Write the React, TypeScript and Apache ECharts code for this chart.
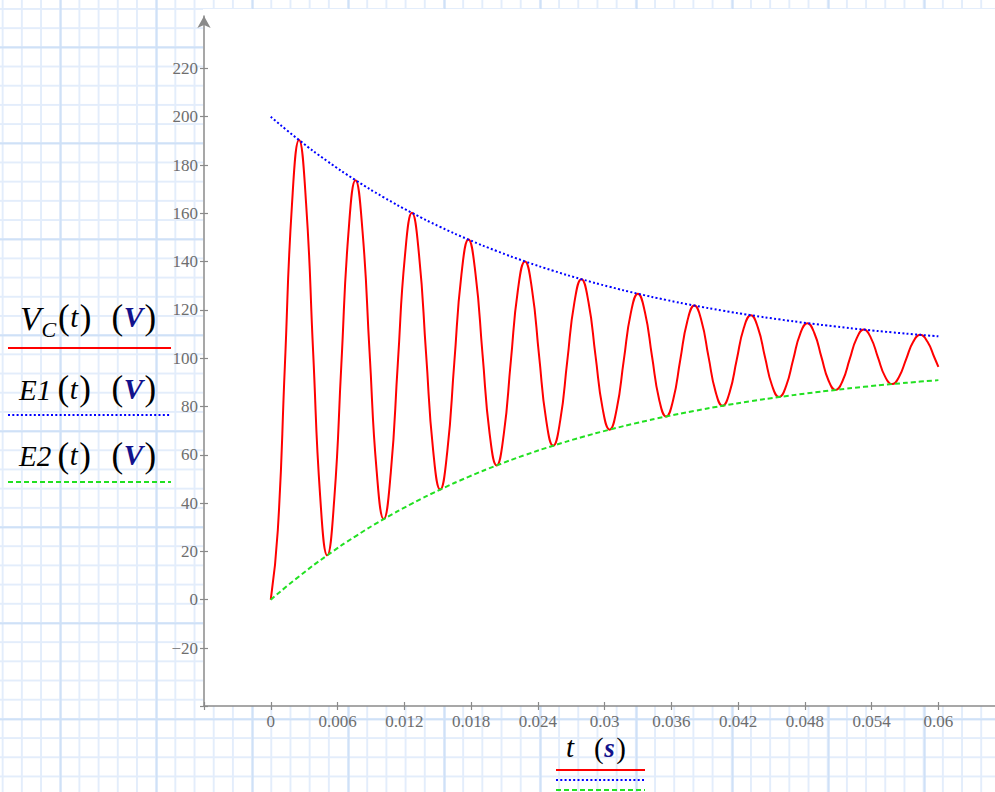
import React, { useEffect, useRef } from 'react';
import * as echarts from 'echarts';

// Time samples (s)
const vcTime = [0, 0.000635, 0.001269, 0.001904, 0.002538, 0.003173, 0.003807, 0.004442, 0.005076, 0.005711, 0.006345, 0.00698, 0.007614, 0.008249, 0.008883, 0.009518, 0.010152, 0.010787, 0.011421, 0.012056, 0.01269, 0.013325, 0.013959, 0.014594, 0.015228, 0.015863, 0.016497, 0.017132, 0.017766, 0.018401, 0.019035, 0.01967, 0.020304, 0.020939, 0.021573, 0.022208, 0.022842, 0.023477, 0.024111, 0.024746, 0.02538, 0.026015, 0.026649, 0.027284, 0.027918, 0.028553, 0.029187, 0.029822, 0.030456, 0.031091, 0.031725, 0.03236, 0.032994, 0.033629, 0.034263, 0.034898, 0.035532, 0.036167, 0.036801, 0.037436, 0.03807, 0.038705, 0.039339, 0.039974, 0.040608, 0.041243, 0.041877, 0.042512, 0.043146, 0.043781, 0.044415, 0.04505, 0.045684, 0.046319, 0.046953, 0.047588, 0.048222, 0.048857, 0.049491, 0.050126, 0.05076, 0.051395, 0.052029, 0.052664, 0.053298, 0.053933, 0.054567, 0.055202, 0.055836, 0.056471, 0.057105, 0.05774, 0.058374, 0.059009, 0.059643, 0.06];

// V_C(t) in volts
const vcValue = [0, 28.86, 96.96, 163.43, 190.35, 164.27, 102.75, 42.69,
  18.38, 41.93, 97.52, 151.78, 173.74, 152.46, 102.24, 53.22,
  33.38, 52.61, 97.97, 142.26, 160.19, 142.82, 101.83, 61.82,
  45.62, 61.31, 98.35, 134.49, 149.13, 134.95, 101.49, 68.83,
  55.61, 68.43, 98.65, 128.15, 140.1, 128.53, 101.22, 74.56,
  63.77, 74.23, 98.9, 122.99, 132.73, 123.28, 101.0, 79.24,
  70.42, 78.96, 99.1, 118.76, 126.72, 119.01, 100.81, 83.05,
  75.86, 82.82, 99.27, 115.31, 121.81, 115.52, 100.66, 86.17,
  80.29, 85.98, 99.4, 112.5, 117.81, 112.67, 100.54, 88.71,
  83.91, 88.56, 99.51, 110.21, 114.53, 110.34, 100.44, 90.78,
  86.87, 90.66, 99.6, 108.33, 111.86, 108.44, 100.36, 92.48,
  89.28, 92.37, 99.67, 106.8, 109.68, 106.89, 100.29, 96.4];

// Envelope samples
const envTime = [0, 0.002538, 0.005076, 0.007614, 0.010152, 0.01269, 0.015228, 0.017766, 0.020304, 0.022842, 0.02538, 0.027918, 0.030456, 0.032994, 0.035532, 0.03807, 0.040608, 0.043146, 0.045684, 0.048222, 0.05076, 0.053298, 0.055836, 0.058374, 0.06];
const e1Value = [200, 190.35, 181.62, 173.74, 166.62, 160.19, 154.38, 149.13, 144.39, 140.1, 136.23, 132.73, 129.58, 126.72, 124.14, 121.81, 119.71, 117.81, 116.09, 114.53, 113.13, 111.86, 110.72, 109.68, 109.07];
const e2Value = [0, 9.65, 18.38, 26.26, 33.38, 39.81, 45.62, 50.87, 55.61, 59.9, 63.77, 67.27, 70.42, 73.28, 75.86, 78.19, 80.29, 82.19, 83.91, 85.47, 86.87, 88.14, 89.28, 90.32, 90.93];

const xTickValues = [0, 0.006, 0.012, 0.018, 0.024, 0.03, 0.036, 0.042, 0.048, 0.054, 0.06];
const yTickValues = [-20, 0, 20, 40, 60, 80, 100, 120, 140, 160, 180, 200, 220];

const X_MIN = -0.006;
const X_MAX = 0.065088;
const Y_MIN = -44;
const Y_MAX = 241.7;

const AXIS_COLOR = '#8a8a8a';
const LABEL_COLOR = '#6e6e6e';
const SERIF = '"Liberation Serif", "Times New Roman", serif';
const NAVY = '#12128c';
const RED = '#ff0000';
const BLUE = '#0000ff';
const GREEN = '#22e022';

function piece(text: string, x: number, baseline: number, size: number, italic: boolean, bold: boolean, color: string) {
  return {
    type: 'text',
    z: 100,
    x,
    y: baseline - 0.3375 * size,
    style: {
      text,
      font: `${italic ? 'italic ' : ''}${bold ? 'bold ' : ''}${size}px ${SERIF}`,
      fill: color,
      textAlign: 'left',
      verticalAlign: 'middle',
      textVerticalAlign: 'middle',
    },
  };
}

// a parenthesised group "(x)" as one rich text, parens regular, inner letter styled
function parenGroup(inner: string, x: number, baseline: number, parenSize: number, innerSize: number, bold: boolean, color: string) {
  const p: any = { fontFamily: SERIF, fontSize: parenSize, fontStyle: 'normal', fontWeight: 'normal', fill: '#000', color: '#000' };
  const i: any = { fontFamily: SERIF, fontSize: innerSize, fontStyle: 'italic', fontWeight: bold ? 'bold' : 'normal', fill: color, color, padding: [0, 1.5, 0, 0.5] };
  return {
    type: 'text',
    z: 100,
    x,
    y: baseline - 0.3375 * (parenSize + innerSize) / 2,
    style: {
      text: `{p|(}{i|${inner}}{p|)}`,
      textAlign: 'left',
      verticalAlign: 'middle',
      textVerticalAlign: 'middle',
      rich: { p, i },
    },
  };
}

function hline(x1: number, x2: number, y: number, color: string, dash?: number[]) {
  return {
    type: 'line',
    z: 100,
    shape: { x1, y1: y, x2, y2: y },
    style: { stroke: color, lineWidth: 2, lineDash: dash || null },
  };
}

function rowLabel(name: string, nameX: number, baseline: number) {
  return [
    piece(name, nameX, baseline, 29, true, false, '#000'),
    parenGroup('t', 57.6, baseline, 35, 29, false, '#000'),
    parenGroup('V', 111.5, baseline, 35, 29, true, NAVY),
  ];
}

export default function App() {
  const ref = useRef<HTMLDivElement>(null);

  useEffect(() => {
    if (!ref.current) return;
    const chart = echarts.init(ref.current, null, { renderer: 'svg' });

    const vcData = vcTime.map((t, i) => [t, vcValue[i]]);
    const e1Data = envTime.map((t, i) => [t, e1Value[i]]);
    const e2Data = envTime.map((t, i) => [t, e2Value[i]]);

    const graphicEls: any[] = [
      {
        type: 'rect',
        z: -100,
        shape: { x: 203, y: 9, width: 792, height: 697 },
        style: { fill: '#ffffff' },
      },
      // V_C(t) (V)
      piece('V', 20, 330, 34, true, false, '#000'),
      piece('C', 41.5, 337, 22, true, false, '#000'),
      parenGroup('t', 58, 328, 35, 29, false, '#000'),
      parenGroup('V', 111.5, 328, 35, 29, true, NAVY),
      hline(8, 171, 348, RED),
      ...rowLabel('E1', 19, 399.3),
      hline(8, 170, 415, BLUE, [2, 2.3]),
      ...rowLabel('E2', 19, 466),
      hline(8, 171, 482, GREEN, [5, 3]),
      // axis title t (s)
      piece('t', 566, 757, 29, true, false, '#000'),
      parenGroup('s', 594, 757, 29, 27, true, NAVY),
      hline(556, 645, 770, RED),
      hline(556, 645, 780, BLUE, [2, 2.3]),
      hline(556, 645, 790, GREEN, [5, 3]),
    ];

    const labelStyle = {
      color: LABEL_COLOR,
      fontFamily: SERIF,
      fontSize: 17,
    };

    const option: any = {
      animation: false,
      graphic: { elements: graphicEls },
      grid: { left: 204, right: 0, top: 16, bottom: 86, containLabel: false },
      xAxis: [
        {
          type: 'value',
          min: X_MIN,
          max: X_MAX,
          position: 'bottom',
          axisLine: { show: true, onZero: false, lineStyle: { color: AXIS_COLOR, width: 1.5 } },
          axisTick: { show: true, length: 4, customValues: [X_MIN, ...xTickValues], lineStyle: { color: AXIS_COLOR, width: 1.2 } },
          axisLabel: {
            show: true,
            customValues: xTickValues,
            margin: 7,
            ...labelStyle,
            formatter: (v: number) => String(v),
          },
          splitLine: { show: false },
        },
        {
          type: 'value',
          min: X_MIN,
          max: X_MAX,
          position: 'bottom',
          axisLine: { show: false, onZero: false },
          axisTick: { show: true, inside: true, length: 4, customValues: [X_MIN, ...xTickValues], lineStyle: { color: AXIS_COLOR, width: 1.2 } },
          axisLabel: { show: false },
          splitLine: { show: false },
        },
      ],
      yAxis: [
        {
          type: 'value',
          min: Y_MIN,
          max: Y_MAX,
          position: 'left',
          axisLine: {
            show: true,
            onZero: false,
            symbol: ['none', 'arrow'],
            symbolSize: [10, 12],
            lineStyle: { color: AXIS_COLOR, width: 1.5 },
          },
          axisTick: { show: true, length: 4, customValues: [Y_MIN, ...yTickValues], lineStyle: { color: AXIS_COLOR, width: 1.2 } },
          axisLabel: {
            show: true,
            customValues: yTickValues,
            margin: 6,
            ...labelStyle,
            formatter: (v: number) => (v < 0 ? '\u2212' + Math.abs(v) : String(v)),
          },
          splitLine: { show: false },
        },
        {
          type: 'value',
          min: Y_MIN,
          max: Y_MAX,
          position: 'left',
          axisLine: { show: false, onZero: false },
          axisTick: { show: true, inside: true, length: 4, customValues: [Y_MIN, ...yTickValues], lineStyle: { color: AXIS_COLOR, width: 1.2 } },
          axisLabel: { show: false },
          splitLine: { show: false },
        },
      ],
      series: [
        {
          type: 'line',
          name: 'Vc',
          data: vcData,
          xAxisIndex: 0,
          yAxisIndex: 0,
          smooth: true,
          showSymbol: false,
          symbol: 'none',
          lineStyle: { color: RED, width: 2 },
          z: 3,
        },
        {
          type: 'line',
          name: 'E1',
          data: e1Data,
          xAxisIndex: 0,
          yAxisIndex: 0,
          smooth: true,
          showSymbol: false,
          symbol: 'none',
          lineStyle: { color: BLUE, width: 2, type: [2, 2.3] },
          z: 4,
        },
        {
          type: 'line',
          name: 'E2',
          data: e2Data,
          xAxisIndex: 0,
          yAxisIndex: 0,
          smooth: true,
          showSymbol: false,
          symbol: 'none',
          lineStyle: { color: GREEN, width: 2, type: [5, 3] },
          z: 4,
        },
      ],
    };

    chart.setOption(option);
    return () => {
      chart.dispose();
    };
  }, []);

  const bg = {
    position: 'absolute' as const,
    left: 0,
    top: 0,
    width: 995,
    height: 792,
    backgroundColor: '#ffffff',
    backgroundImage: [
      'linear-gradient(to right, #cfe1f7 2px, transparent 2px)',
      'linear-gradient(to bottom, #cfe1f7 2px, transparent 2px)',
      'linear-gradient(to right, #e3edfb 2px, transparent 2px)',
      'linear-gradient(to bottom, #e3edfb 2px, transparent 2px)',
    ].join(','),
    backgroundSize: '96px 96px, 96px 96px, 19.2px 19.2px, 19.2px 19.2px',
    backgroundPosition: '59.7px 0px, 0px 46.4px, 1.7px 0px, 0px 8px',
  };

  return (
    <div style={bg}>
      <div ref={ref} style={{ width: 995, height: 792 }} />
    </div>
  );
}
